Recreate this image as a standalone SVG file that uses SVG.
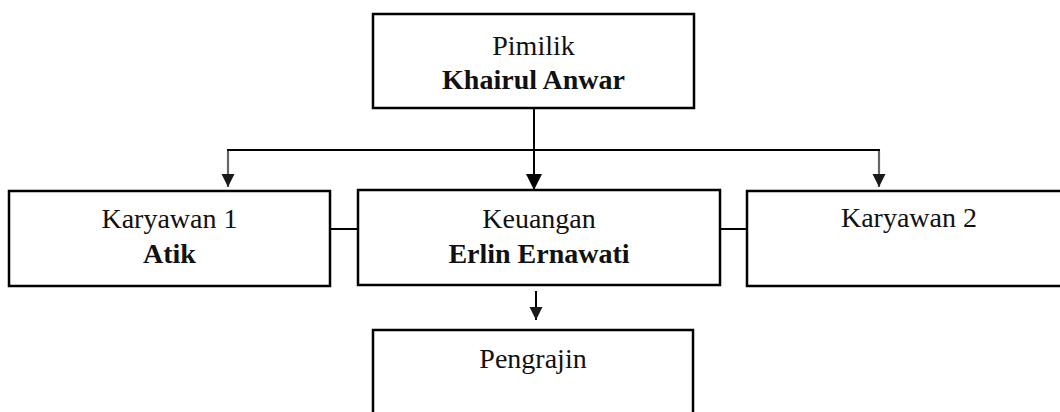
<svg xmlns="http://www.w3.org/2000/svg" width="1060" height="412" viewBox="0 0 1060 412">
  <style>
    .box { fill: #ffffff; stroke: #000000; stroke-width: 2.5; }
    .t { font-family: "Liberation Serif", "Times New Roman", serif; font-size: 28px; fill: #111111; text-anchor: middle; }
    .b { font-weight: bold; }
    .line { stroke: #000000; stroke-width: 2; fill: none; }
    .soft { stroke: #666666; stroke-width: 2.2; fill: none; }
  </style>
  <defs>
    <marker id="headBig" markerUnits="userSpaceOnUse" markerWidth="16" markerHeight="18" refX="16" refY="8" orient="auto">
      <path d="M0,0 L16,8 L0,16 Z" fill="#000000"/>
    </marker>
    <marker id="headSmall" markerUnits="userSpaceOnUse" markerWidth="14" markerHeight="14" refX="13" refY="6.5" orient="auto">
      <path d="M0,0 L13,6.5 L0,13 Z" fill="#1a1a1a"/>
    </marker>
  </defs>

  <!-- connectors -->
  <g id="connectors">
    <line class="line" x1="227" y1="150" x2="880" y2="150"/>
    <line class="line" x1="534" y1="108" x2="534" y2="190" stroke-width="2.5" marker-end="url(#headBig)"/>
    <line class="soft" x1="228" y1="151" x2="228" y2="187" marker-end="url(#headSmall)"/>
    <line class="soft" x1="879" y1="151" x2="879" y2="187" marker-end="url(#headSmall)"/>
    <line class="line" x1="330" y1="229" x2="358" y2="229"/>
    <line class="line" x1="720" y1="229" x2="747" y2="229"/>
    <line class="line" x1="536" y1="291" x2="536" y2="320" marker-end="url(#headSmall)"/>
  </g>

  <g id="pimilik">
    <rect class="box" x="373" y="14" width="321" height="94"/>
    <text class="t" x="533.5" y="55">Pimilik</text>
    <text class="t b" x="533.5" y="89">Khairul Anwar</text>
  </g>

  <g id="karyawan1">
    <rect class="box" x="9" y="191" width="321" height="95"/>
    <text class="t" x="169.5" y="228">Karyawan 1</text>
    <text class="t b" x="169.5" y="263">Atik</text>
  </g>

  <g id="keuangan">
    <rect class="box" x="358" y="190" width="362" height="95"/>
    <text class="t" x="539" y="228">Keuangan</text>
    <text class="t b" x="539" y="263">Erlin Ernawati</text>
  </g>

  <g id="karyawan2">
    <rect class="box" x="747" y="191" width="330" height="95"/>
    <text class="t" x="909" y="227">Karyawan 2</text>
  </g>

  <g id="pengrajin">
    <rect class="box" x="373" y="330" width="320" height="100"/>
    <text class="t" x="533" y="368">Pengrajin</text>
  </g>
</svg>
